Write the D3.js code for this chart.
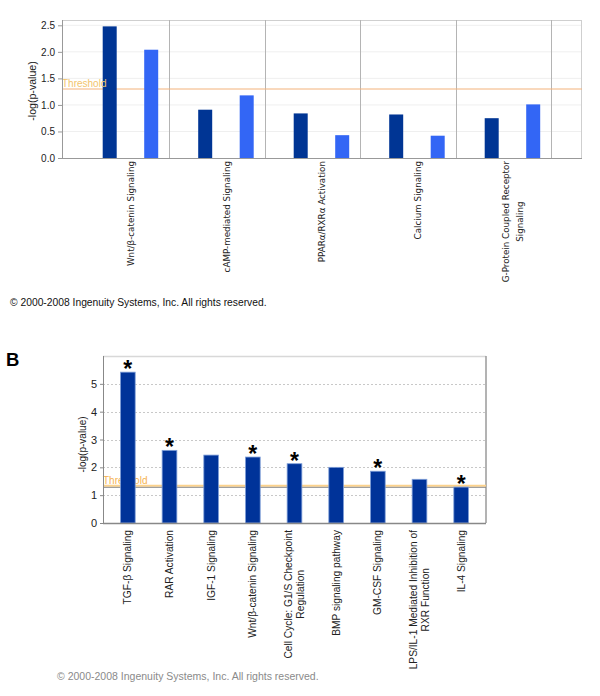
<!DOCTYPE html>
<html><head><meta charset="utf-8">
<script src="https://cdn.jsdelivr.net/npm/d3@7"></script>
<style>
html,body{margin:0;padding:0;background:#fff;}
</style></head>
<body>
<svg id="chart" width="600" height="696" font-family="Liberation Sans, Arial, sans-serif"></svg>
<script>
// ---------- Data: panel A ----------
const topCategories = ["Wnt/β-catenin Signaling", "cAMP-mediated Signaling", "PPARα/RXRα Activation", "Calcium Signaling", "G-Protein Coupled Receptor\nSignaling"];
const topSeriesNames = ["A", "B"];
const topSeriesA = [2.48, 0.91, 0.84, 0.82, 0.75];
const topSeriesB = [2.04, 1.18, 0.43, 0.42, 1.01];
const topTicks = [0.0, 0.5, 1.0, 1.5, 2.0, 2.5];
const topThreshold = 1.3;

// ---------- Data: panel B ----------
const botCategories = ["TGF-β Signaling", "RAR Activation", "IGF-1 Signaling", "Wnt/β-catenin Signaling", "Cell Cycle: G1/S Checkpoint\nRegulation", "BMP signaling pathway", "GM-CSF Signaling", "LPS/IL-1 Mediated Inhibition of\nRXR Function", "IL-4 Signaling"];
const botValues = [5.42, 2.61, 2.44, 2.37, 2.13, 2.00, 1.86, 1.57, 1.29];
const botStarred = [true, true, false, true, true, false, true, false, true];
const botTicks = [0, 1, 2, 3, 4, 5];
const botThreshold = 1.3;

const copyrightText = "© 2000-2008 Ingenuity Systems, Inc. All rights reserved.";

const svg = d3.select("#chart");

function drawLabel(g, text, cx, top, fontSize, lineH, color, family) {
  const lines = text.split("\n");
  const lg = g.append("g").attr("transform", `translate(${cx},${top}) rotate(-90)`);
  const ts = lines.map(l => lg.append("text").text(l).attr("font-size", fontSize).attr("fill", color).style("font-family", family));
  const maxW = d3.max(ts, t => t.node().getComputedTextLength());
  ts.forEach((t, i) => {
    t.attr("text-anchor", "middle")
     .attr("x", -maxW / 2)
     .attr("y", (i - (lines.length - 1) / 2) * lineH)
     .attr("dy", "0.35em");
  });
}

// ================= Panel A =================
(function () {
  const L = 62, R = 582, T = 20, B = 158;
  const g = svg.append("g");
  const y = d3.scaleLinear().domain([0, 2.6]).range([B, T]);
  const xg = d3.scaleBand().domain(topCategories).range([82.7, 560.2]).padding(0);
  const xs = d3.scalePoint().domain(topSeriesNames).range([27, 68.5]);
  const barW = 14;

  g.selectAll("line.hg").data(topTicks.slice(1)).join("line")
    .attr("x1", L).attr("x2", R).attr("y1", d => y(d)).attr("y2", d => y(d))
    .attr("stroke", "#efefef").attr("stroke-width", 1);

  g.append("line").attr("x1", L).attr("x2", R).attr("y1", T + 0.5).attr("y2", T + 0.5).attr("stroke", "#cfcfcf");
  g.append("line").attr("x1", R - 0.5).attr("x2", R - 0.5).attr("y1", T).attr("y2", B).attr("stroke", "#cfcfcf");

  g.selectAll("line.sep").data(topCategories).join("line")
    .attr("x1", d => Math.round(xg(d) + xg.bandwidth() - 9) + 0.5)
    .attr("x2", d => Math.round(xg(d) + xg.bandwidth() - 9) + 0.5)
    .attr("y1", T).attr("y2", B).attr("stroke", "#b4b4b4");

  g.append("line").attr("x1", L).attr("x2", R).attr("y1", y(topThreshold)).attr("y2", y(topThreshold))
    .attr("stroke", "#f3b27a").attr("stroke-width", 1);

  const rows = topCategories.map((c, i) => ({c, A: topSeriesA[i], B: topSeriesB[i]}));
  const colors = {A: "#003594", B: "#3366f5"};
  topSeriesNames.forEach(s => {
    g.selectAll("rect.bar" + s).data(rows).join("rect")
      .attr("x", d => xg(d.c) + xs(s) - barW / 2)
      .attr("width", barW)
      .attr("y", d => y(d[s]))
      .attr("height", d => B - y(d[s]))
      .attr("fill", colors[s]);
  });

  g.append("text").text("Threshold").attr("x", L).attr("y", y(topThreshold) - 2)
    .attr("font-size", 10).attr("fill", "#f2c46c");

  const ya = g.append("g").attr("transform", `translate(${L},0)`)
    .call(d3.axisLeft(y).tickValues(topTicks).tickFormat(d3.format(".1f")).tickSize(4).tickSizeOuter(0));
  ya.select(".domain").remove();
  ya.selectAll(".tick line").attr("stroke", "#999");
  ya.selectAll(".tick text").attr("font-size", 10).attr("fill", "#222").style("font-family", "Liberation Sans, Arial");
  g.append("line").attr("x1", L + 0.5).attr("x2", L + 0.5).attr("y1", T).attr("y2", B).attr("stroke", "#999");
  g.append("line").attr("x1", L).attr("x2", R).attr("y1", B + 0.5).attr("y2", B + 0.5).attr("stroke", "#999");

  g.append("text").text("-log(p-value)")
    .attr("transform", `translate(36,${(T + B) / 2 + 2}) rotate(-90)`)
    .attr("text-anchor", "middle").attr("font-size", 10.6).attr("fill", "#222");

  topCategories.forEach(c => drawLabel(g, c, xg(c) + xg.bandwidth() / 2 + 0.5, 161, 8.75, 13.5, "#222", "DejaVu Sans, sans-serif"));

  g.append("text").text(copyrightText).attr("x", 10).attr("y", 306)
    .attr("font-size", 10.3).attr("fill", "#111");
})();

// ================= Panel B =================
(function () {
  const L = 103, R = 486, T = 356, B = 523;
  const g = svg.append("g");
  const y = d3.scaleLinear().domain([0, 6]).range([B, T]);
  const x = d3.scaleBand().domain(botCategories).range([107, 482]).paddingInner(0.647).paddingOuter(0.3235);

  g.append("text").text("B").attr("x", 6).attr("y", 366)
    .attr("font-size", 18.5).attr("font-weight", "bold").attr("fill", "#000");

  g.selectAll("line.hg").data(botTicks.slice(1)).join("line")
    .attr("x1", L).attr("x2", R).attr("y1", d => Math.round(y(d)) + 0.5).attr("y2", d => Math.round(y(d)) + 0.5)
    .attr("stroke", "#c8c8c8").attr("stroke-dasharray", "2,2");

  g.append("line").attr("x1", L).attr("x2", R).attr("y1", T + 0.5).attr("y2", T + 0.5).attr("stroke", "#d8d8d8").attr("stroke-width", 1.5);
  g.append("line").attr("x1", R).attr("x2", R).attr("y1", T).attr("y2", B).attr("stroke", "#9a9a9a").attr("stroke-width", 1.5);

  g.append("line").attr("x1", L).attr("x2", R).attr("y1", y(botThreshold) - 1).attr("y2", y(botThreshold) - 1)
    .attr("stroke", "#fcd28c").attr("stroke-width", 2);
  g.append("line").attr("x1", L).attr("x2", R).attr("y1", y(botThreshold) + 0.5).attr("y2", y(botThreshold) + 0.5)
    .attr("stroke", "#8a8a8a").attr("stroke-width", 1);
  g.append("text").text("Threshold").attr("x", L).attr("y", y(botThreshold) - 3)
    .attr("font-size", 10).attr("fill", "#f5b350");

  const rows = botCategories.map((c, i) => ({c, v: botValues[i], s: botStarred[i]}));
  g.selectAll("rect.bar").data(rows).join("rect")
    .attr("x", d => x(d.c))
    .attr("width", x.bandwidth())
    .attr("y", d => y(d.v))
    .attr("height", d => B - y(d.v))
    .attr("fill", "#003399")
    .attr("stroke", "#7f9fd8").attr("stroke-width", 0.8);

  g.selectAll("text.star").data(rows.filter(d => d.s)).join("text")
    .text("*")
    .attr("x", d => x(d.c) + x.bandwidth() / 2)
    .attr("y", d => y(d.v) + 5)
    .attr("text-anchor", "middle")
    .attr("font-size", 23).attr("font-weight", "bold").attr("fill", "#000");

  const ya = g.append("g").attr("transform", `translate(${L},0)`)
    .call(d3.axisLeft(y).tickValues(botTicks).tickFormat(d3.format("d")).tickSize(3).tickSizeOuter(0));
  ya.select(".domain").remove();
  ya.selectAll(".tick line").attr("stroke", "#888");
  ya.selectAll(".tick text").attr("font-size", 11).attr("fill", "#222").style("font-family", "Liberation Sans, Arial");
  g.append("line").attr("x1", L + 0.5).attr("x2", L + 0.5).attr("y1", T).attr("y2", B).attr("stroke", "#888");
  g.append("line").attr("x1", L).attr("x2", R).attr("y1", B + 0.5).attr("y2", B + 0.5).attr("stroke", "#888").attr("stroke-width", 1.5);

  g.append("text").text("-log(p-value)")
    .attr("transform", `translate(86,${(T + B) / 2 + 5}) rotate(-90)`)
    .attr("text-anchor", "middle").attr("font-size", 10).attr("fill", "#222");

  botCategories.forEach(c => drawLabel(g, c, x(c) + x.bandwidth() / 2, 530, 10.2, 11.7, "#222", "Liberation Sans, Arial"));

  g.append("text").text(copyrightText).attr("x", 57).attr("y", 680)
    .attr("font-size", 10.5).attr("fill", "#8a8a8a");
})();
</script>
</body></html>
